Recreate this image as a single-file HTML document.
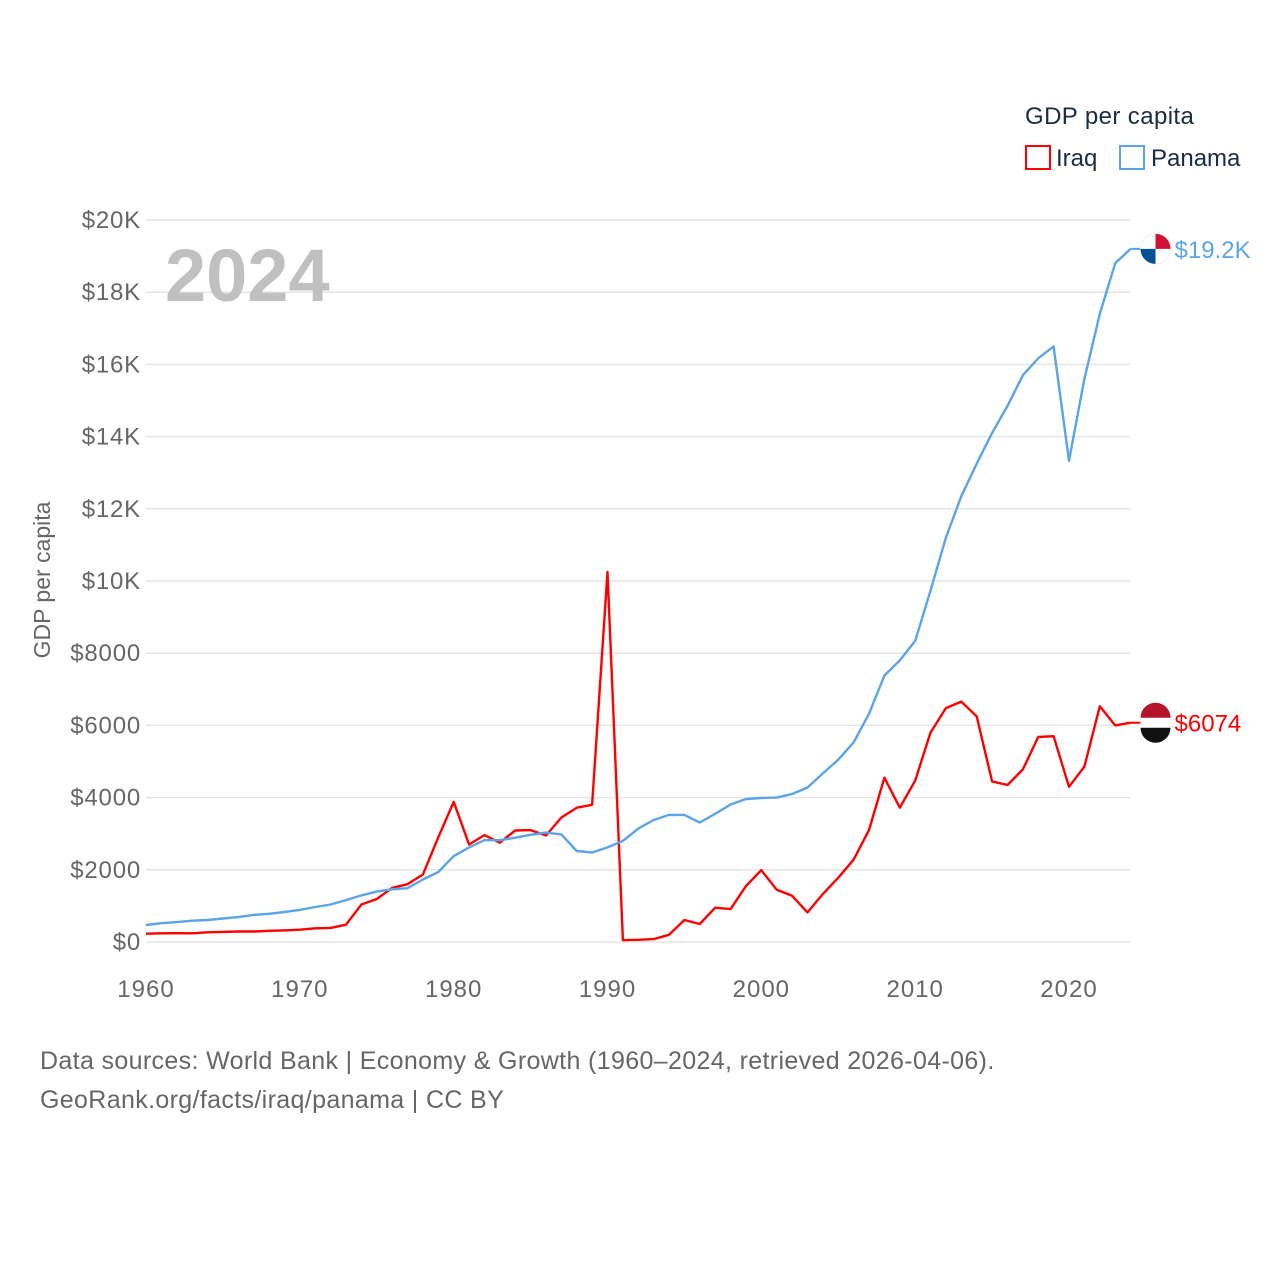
<!DOCTYPE html>
<html><head><meta charset="utf-8"><style>
body{margin:0;background:#fff;font-family:"Liberation Sans",sans-serif}
</style></head><body>
<svg width="1280" height="1280" xmlns="http://www.w3.org/2000/svg" font-family="Liberation Sans, sans-serif">
<g id="grid"></g><g id="ylabels"></g><g id="xlabels"></g>
<text x="165" y="301" font-size="74" font-weight="bold" fill="#c0c0c0">2024</text>
<text x="50" y="580" font-size="23" fill="#666" transform="rotate(-90 50 580)" text-anchor="middle">GDP per capita</text>
<text x="1025" y="124" font-size="24" letter-spacing="0.4" fill="#1a2b45">GDP per capita</text>
<g><rect x="1026" y="146" width="24" height="23" fill="none" stroke="#f00" stroke-width="2"/><text x="1056" y="166" font-size="24" fill="#1a2b45">Iraq</text></g>
<g><rect x="1120" y="146" width="24" height="23" fill="none" stroke="#5ba4e8" stroke-width="2"/><text x="1151" y="166" font-size="24" fill="#1a2b45">Panama</text></g>
<path id="iraq" fill="none" stroke="#f00" stroke-width="2.4" stroke-linejoin="round"/>
<path id="panama" fill="none" stroke="#5ba4e8" stroke-width="2.4" stroke-linejoin="round"/>
<g id="ends"></g>
<text x="40" y="1069" font-size="25" letter-spacing="0.35" fill="#666">Data sources: World Bank | Economy &amp; Growth (1960–2024, retrieved 2026-04-06).</text>
<text x="40" y="1108" font-size="25" letter-spacing="0.35" fill="#666">GeoRank.org/facts/iraq/panama | CC BY</text>
</svg>
<script>
const years=[];for(let y=1960;y<=2024;y++)years.push(y);
const iraq=[230,240,245,240,270,280,290,290,310,320,340,380,390,480,1040,1190,1500,1600,1870,2900,3880,2700,2960,2750,3090,3100,2950,3450,3720,3800,10250,50,60,80,200,610,500,950,910,1550,1990,1450,1280,820,1330,1780,2280,3100,4550,3720,4470,5800,6480,6660,6250,4450,4350,4780,5680,5700,4300,4860,6530,6000,6074];
const panama=[470,520,550,590,610,650,690,750,780,830,890,970,1040,1160,1290,1400,1460,1490,1730,1940,2380,2620,2820,2820,2890,2970,3030,2980,2520,2480,2620,2800,3140,3380,3520,3520,3310,3550,3810,3960,3990,4000,4100,4280,4670,5050,5530,6320,7380,7800,8340,9730,11200,12350,13250,14100,14850,15700,16170,16500,13330,15600,17400,18800,19200];
const yTicks=[0,2000,4000,6000,8000,10000,12000,14000,16000,18000,20000];
const yTickLabels=["$0","$2000","$4000","$6000","$8000","$10K","$12K","$14K","$16K","$18K","$20K"];
const xTicks=[1960,1970,1980,1990,2000,2010,2020];
const NS="http://www.w3.org/2000/svg";
const X=v=>146+(v-1960)*(1069-146)/60;
const Y=v=>942-v*(942-220)/20000;
function mk(t,a,p){const e=document.createElementNS(NS,t);for(const k in a)e.setAttribute(k,a[k]);p.appendChild(e);return e;}
const g=document.getElementById('grid'),yl=document.getElementById('ylabels'),xl=document.getElementById('xlabels');
yTicks.forEach((v,i)=>{
 const l=mk('line',{x1:146,x2:1130,y1:Y(v),y2:Y(v),stroke:'#e6e6e6','stroke-width':1.5},g);
 
 
 const t=mk('text',{x:141,y:Y(v)+8,'text-anchor':'end','font-size':24,'letter-spacing':0.8,fill:'#666'},yl);t.textContent=yTickLabels[i];
 
 
});
xTicks.forEach(v=>{const t=mk('text',{x:X(v),y:997,'text-anchor':'middle','font-size':24,'letter-spacing':1,fill:'#666'},xl);t.textContent=v;
 
 });
const path=a=>a.map((v,i)=>(i?'L':'M')+X(years[i]).toFixed(1)+' '+Y(v).toFixed(1)).join('');
document.getElementById('iraq').setAttribute('d',path(iraq));
document.getElementById('panama').setAttribute('d',path(panama));
const ends=document.getElementById('ends');
function endMark(arr,col,label,name,flag){
 const v=arr[arr.length-1],x=X(years[years.length-1]),y=Y(v);
 mk('line',{x1:x,x2:x+10,y1:y,y2:y,stroke:col,'stroke-width':2},ends);
 const c=mk('g',{},ends);
 
 
 const cx=x+25;
 if(flag==='pa'){
  mk('circle',{cx:cx,cy:y,r:15,fill:'#fff',stroke:'#eee','stroke-width':1},c);
  mk('path',{d:`M${cx} ${y}V${y-15}A15 15 0 0 1 ${cx+15} ${y}Z`,fill:'#d21034'},c);
  mk('path',{d:`M${cx} ${y}V${y+15}A15 15 0 0 1 ${cx-15} ${y}Z`,fill:'#005293'},c);
 }else{
  mk('circle',{cx:cx,cy:y,r:15,fill:'#fff'},c);
  mk('path',{d:`M${cx-15} ${y-5}A15 15 0 0 1 ${cx+15} ${y-5}Z`,fill:'#b5122b'},c);
  mk('path',{d:`M${cx-15} ${y+5}A15 15 0 0 0 ${cx+15} ${y+5}Z`,fill:'#111'},c);
 }
 const t=mk('text',{x:x+44,y:y+9,'font-size':24,fill:col},ends);t.textContent=label;
 
 
}
endMark(panama,'#5ba4e8','$19.2K','panama','pa');
endMark(iraq,'#f00','$6074','iraq','iq');
</script>
</body></html>
